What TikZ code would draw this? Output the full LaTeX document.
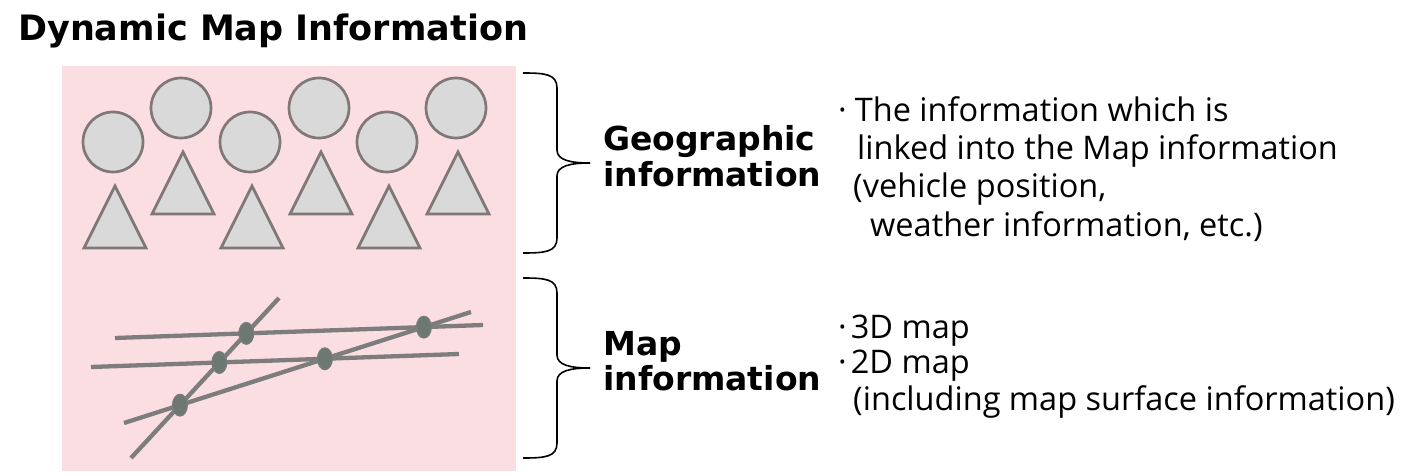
\documentclass[tikz,border=0pt]{standalone}
\usepackage{fontspec}
\setmainfont{Open Sans}
\newfontfamily\headfont{DejaVu Sans}
\usetikzlibrary{calc}
\definecolor{mappink}{RGB}{251,222,225}
\definecolor{shapegray}{RGB}{217,217,217}
\definecolor{edgegray}{RGB}{128,120,118}
\definecolor{roadgray}{RGB}{125,125,125}
\definecolor{dotgray}{RGB}{110,120,114}
\tikzstyle{heading} = [font=\headfont\bfseries\fontsize{33}{38}\selectfont, anchor=base west, inner sep=0pt]
\tikzstyle{note} = [font=\fontsize{32.5}{38}\selectfont, anchor=base west, inner sep=0pt]
\tikzstyle{thing} = [draw=edgegray, fill=shapegray, line width=2.7pt]
\tikzstyle{road} = [draw=roadgray, line width=4.3pt]
\tikzstyle{crossing} = [fill=dotgray, draw=roadgray, line width=1pt]
\tikzstyle{bracket} = [draw, line width=1.6pt]

\begin{document}
\begin{tikzpicture}[x=1pt, y=-1pt]
    \useasboundingbox (0,0) rectangle (1406,473);
    \node[heading, font=\headfont\bfseries\fontsize{35}{40}\selectfont] (title) at (18,41) {Dynamic Map Information};
    % the pink map layer
    \fill[mappink] (62,66) rectangle (516,471);
    % geographic things
    \foreach \cx/\cy in {113/142, 181/108, 250/142, 319/108, 387/142, 456/108} {
        \path[thing] (\cx,\cy) circle (30pt);
        \path[thing] (\cx+2,\cy+44) -- (\cx+33,\cy+106) -- (\cx-29,\cy+106) -- cycle;
    }
    % roads and crossings
    \coordinate (a1) at (115,338); \coordinate (a2) at (483,325);
    \coordinate (b1) at (91,367);  \coordinate (b2) at (459,354);
    \coordinate (c1) at (131,458); \coordinate (c2) at (279,298);
    \coordinate (d1) at (124,423); \coordinate (d2) at (471,312);
    \foreach \p/\q in {a1/a2, b1/b2, c1/c2, d1/d2}
        \draw[road] (\p) -- (\q);
    \coordinate (ac) at (intersection of a1--a2 and c1--c2);
    \coordinate (bc) at (intersection of b1--b2 and c1--c2);
    \coordinate (cd) at (intersection of c1--c2 and d1--d2);
    \coordinate (bd) at (intersection of b1--b2 and d1--d2);
    \coordinate (ad) at (intersection of a1--a2 and d1--d2);
    \foreach \x in {ac, bc, cd, bd, ad}
        \path[crossing] (\x) ellipse [x radius=7.5pt, y radius=11pt];
    % braces
    \foreach \t in {73, 278} {
        \draw[bracket] (523,\t) .. controls (545,\t) and (557,\t+1) .. (557,\t+15) -- (557,\t+77)
            .. controls (557,\t+87) and (570,\t+90) .. (590,\t+90);
        \draw[bracket] (590,\t+90) .. controls (570,\t+90) and (557,\t+93) .. (557,\t+103) -- (557,\t+165)
            .. controls (557,\t+179) and (545,\t+180) .. (523,\t+180);
    }
    % labels
    \node[heading] (geo1) at (603,151) {Geographic};
    \node[heading] (geo2) at (603,187) {information};
    \node[heading] (map1) at (603,355) {Map};
    \node[heading] (map2) at (603,390) {information};
    \node[note] (geonote1) at (838,122) {·\hspace{8pt}The information which is};
    \node[note] (geonote2) at (857,160) {linked into the Map information};
    \node[note] (geonote3) at (853,198) {(vehicle position,};
    \node[note] (geonote4) at (870,237) {weather information, etc.)};
    \node[note] (mapnote1) at (838,338) {·\hspace{4pt}3D map};
    \node[note] (mapnote2) at (838,373) {·\hspace{4pt}2D map};
    \node[note] (mapnote3) at (853,410) {(including map surface information)};
\end{tikzpicture}
\end{document}
